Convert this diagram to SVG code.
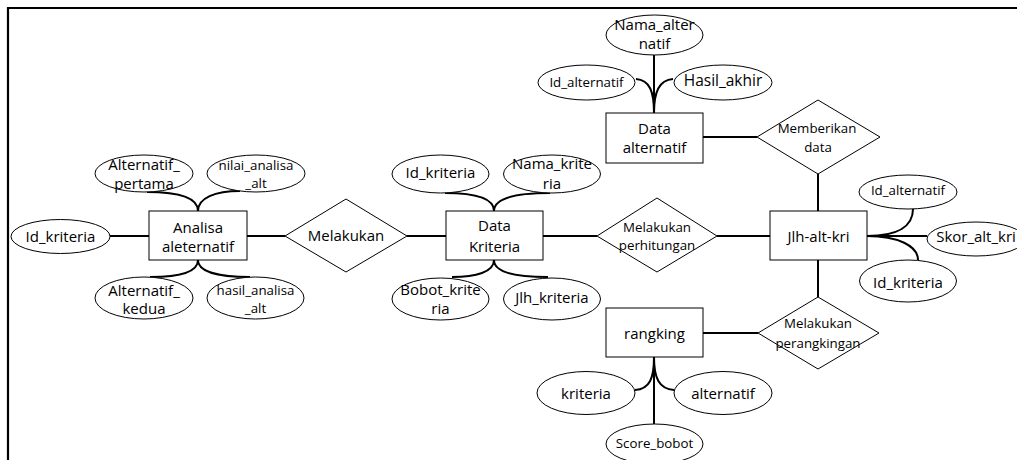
<svg xmlns="http://www.w3.org/2000/svg" width="1017" height="460" viewBox="0 0 1017 460">
<style>
  .shape{fill:#fff;stroke:#000;stroke-width:1}
  .conn{fill:none;stroke:#000;stroke-width:2}
  .frame{fill:none;stroke:#000;stroke-width:2.2}
  text{font-family:"Open Sans","Liberation Sans",sans-serif;fill:#000;text-anchor:middle;dominant-baseline:central}
  .m{font-size:15px}
  .s{font-size:13.3px}
</style>
<rect width="1017" height="460" fill="#fff"/>
<g id="frame">
  <path class="frame" d="M8,460 L8,8 L1017,8"/>
</g>
<g id="connectors">
  <!-- Analisa aleternatif -->
  <line class="conn" x1="110" y1="236" x2="149" y2="236"/>
  <line class="conn" x1="247" y1="236" x2="285" y2="236"/>
  <path class="conn" d="M198,211 C198,198 180,192 147,192"/>
  <path class="conn" d="M198,211 C198,198 215,191 240,191"/>
  <path class="conn" d="M198,260 C198,272 180,277 150,277"/>
  <path class="conn" d="M198,260 C198,272 220,277 250,277"/>
  <!-- Data Kriteria -->
  <line class="conn" x1="407" y1="236" x2="446" y2="236"/>
  <line class="conn" x1="543" y1="236" x2="597" y2="236"/>
  <path class="conn" d="M494,211 C494,198 476,193 445,193"/>
  <path class="conn" d="M494,211 C494,198 515,193 550,193"/>
  <path class="conn" d="M494,260 C494,272 476,277 452,277"/>
  <path class="conn" d="M494,260 C494,272 515,277 548,277"/>
  <!-- Jlh-alt-kri -->
  <line class="conn" x1="717" y1="236" x2="770" y2="236"/>
  <line class="conn" x1="818" y1="174" x2="818" y2="211"/>
  <line class="conn" x1="818" y1="260" x2="818" y2="297"/>
  <line class="conn" x1="867" y1="236" x2="927" y2="236"/>
  <path class="conn" d="M867,236 C898,236 913,226 913,209"/>
  <path class="conn" d="M867,236 C898,236 918,246 918,260"/>
  <!-- Data alternatif -->
  <line class="conn" x1="703" y1="137" x2="757" y2="137"/>
  <line class="conn" x1="654" y1="55" x2="654" y2="113"/>
  <path class="conn" d="M654,113 C654,92 650,80 636,79"/>
  <path class="conn" d="M654,113 C654,92 659,80 673,79"/>
  <!-- rangking -->
  <line class="conn" x1="703" y1="333" x2="758" y2="333"/>
  <line class="conn" x1="654" y1="357" x2="654" y2="424"/>
  <path class="conn" d="M654,357 C654,378 650,389 635,390"/>
  <path class="conn" d="M654,357 C654,378 659,389 674,390"/>
</g>
<g id="analisa_aleternatif">
  <rect class="shape" x="149" y="211" width="98" height="49"/>
  <text class="m" x="198" y="227">Analisa</text>
  <text class="m" x="198" y="246">aleternatif</text>
</g>
<g id="attr_id_kriteria_1">
  <ellipse class="shape" cx="60.5" cy="236.5" rx="49.5" ry="17"/>
  <text class="m" x="60.5" y="236">Id_kriteria</text>
</g>
<g id="attr_alternatif_pertama">
  <ellipse class="shape" cx="144" cy="173.5" rx="49" ry="18.5"/>
  <text class="m" x="144" y="164">Alternatif_</text>
  <text class="m" x="144" y="183">pertama</text>
</g>
<g id="attr_nilai_analisa_alt">
  <ellipse class="shape" cx="256" cy="173.5" rx="49" ry="18.5"/>
  <text class="s" x="256" y="165">nilai_analisa</text>
  <text class="s" x="256" y="183">_alt</text>
</g>
<g id="attr_alternatif_kedua">
  <ellipse class="shape" cx="144" cy="298" rx="49" ry="21"/>
  <text class="m" x="144" y="290">Alternatif_</text>
  <text class="m" x="144" y="308">kedua</text>
</g>
<g id="attr_hasil_analisa_alt">
  <ellipse class="shape" cx="255.5" cy="298" rx="48.5" ry="21"/>
  <text class="s" x="255.5" y="290">hasil_analisa</text>
  <text class="s" x="255.5" y="308">_alt</text>
</g>
<g id="rel_melakukan">
  <polygon class="shape" points="285,236 346,199 407,236 346,272"/>
  <text class="m" x="346" y="235">Melakukan</text>
</g>
<g id="data_kriteria">
  <rect class="shape" x="446" y="211" width="97" height="49"/>
  <text class="m" x="494.5" y="225">Data</text>
  <text class="m" x="494.5" y="246">Kriteria</text>
</g>
<g id="attr_id_kriteria_2">
  <ellipse class="shape" cx="440.5" cy="174" rx="48.5" ry="19"/>
  <text class="m" x="440.5" y="172">Id_kriteria</text>
</g>
<g id="attr_nama_kriteria">
  <ellipse class="shape" cx="552" cy="174" rx="48.5" ry="19"/>
  <text class="m" x="552" y="163">Nama_krite</text>
  <text class="m" x="552" y="183">ria</text>
</g>
<g id="attr_bobot_kriteria">
  <ellipse class="shape" cx="440.5" cy="299" rx="48.5" ry="21"/>
  <text class="m" x="440.5" y="289">Bobot_krite</text>
  <text class="m" x="440.5" y="308">ria</text>
</g>
<g id="attr_jlh_kriteria">
  <ellipse class="shape" cx="552" cy="299" rx="48.5" ry="21"/>
  <text class="m" x="552" y="297">Jlh_kriteria</text>
</g>
<g id="rel_melakukan_perhitungan">
  <polygon class="shape" points="597,236 657,198 717,236 657,272"/>
  <text class="s" x="657" y="227">Melakukan</text>
  <text class="s" x="657" y="245">perhitungan</text>
</g>
<g id="jlh_alt_kri">
  <rect class="shape" x="770" y="211" width="97" height="49"/>
  <text class="m" x="818.5" y="236">Jlh-alt-kri</text>
</g>
<g id="attr_id_alternatif_2">
  <ellipse class="shape" cx="908" cy="192" rx="49" ry="17"/>
  <text class="s" x="908" y="190">Id_alternatif</text>
</g>
<g id="attr_skor_alt_kri">
  <ellipse class="shape" cx="976" cy="239" rx="49" ry="17"/>
  <text class="m" x="976" y="236">Skor_alt_kri</text>
</g>
<g id="attr_id_kriteria_3">
  <ellipse class="shape" cx="908" cy="281" rx="48.5" ry="21"/>
  <text class="m" x="908" y="282">Id_kriteria</text>
</g>
<g id="rel_memberikan_data">
  <polygon class="shape" points="757,137 818,100 880,137 818,174"/>
  <text class="s" x="817" y="128">Memberikan</text>
  <text class="s" x="818" y="147">data</text>
</g>
<g id="data_alternatif">
  <rect class="shape" x="606" y="113" width="97" height="50"/>
  <text class="m" x="654.5" y="128">Data</text>
  <text class="m" x="654.5" y="147">alternatif</text>
</g>
<g id="attr_nama_alternatif">
  <ellipse class="shape" cx="654.5" cy="35" rx="48.5" ry="20"/>
  <text class="m" x="654.5" y="24">Nama_alter</text>
  <text class="m" x="654.5" y="43">natif</text>
</g>
<g id="attr_id_alternatif_1">
  <ellipse class="shape" cx="586.5" cy="82.5" rx="48.5" ry="17.5"/>
  <text class="s" x="586.5" y="82">Id_alternatif</text>
</g>
<g id="attr_hasil_akhir">
  <ellipse class="shape" cx="723" cy="82.5" rx="49" ry="17.5"/>
  <text class="m" x="723" y="80" style="font-size:15.5px">Hasil_akhir</text>
</g>
<g id="rel_melakukan_perangkingan">
  <polygon class="shape" points="758,333 818,297 879,333 818,369"/>
  <text class="s" x="818" y="323">Melakukan</text>
  <text class="s" x="818" y="343">perangkingan</text>
</g>
<g id="rangking">
  <rect class="shape" x="606" y="308" width="97" height="49"/>
  <text class="m" x="654.5" y="333">rangking</text>
</g>
<g id="attr_kriteria">
  <ellipse class="shape" cx="586" cy="393" rx="49" ry="21.5"/>
  <text class="m" x="586" y="393">kriteria</text>
</g>
<g id="attr_alternatif">
  <ellipse class="shape" cx="723" cy="393" rx="49" ry="21.5"/>
  <text class="m" x="723" y="393">alternatif</text>
</g>
<g id="attr_score_bobot">
  <ellipse class="shape" cx="654.5" cy="444" rx="48.5" ry="20"/>
  <text class="s" x="654.5" y="443">Score_bobot</text>
</g>
</svg>
